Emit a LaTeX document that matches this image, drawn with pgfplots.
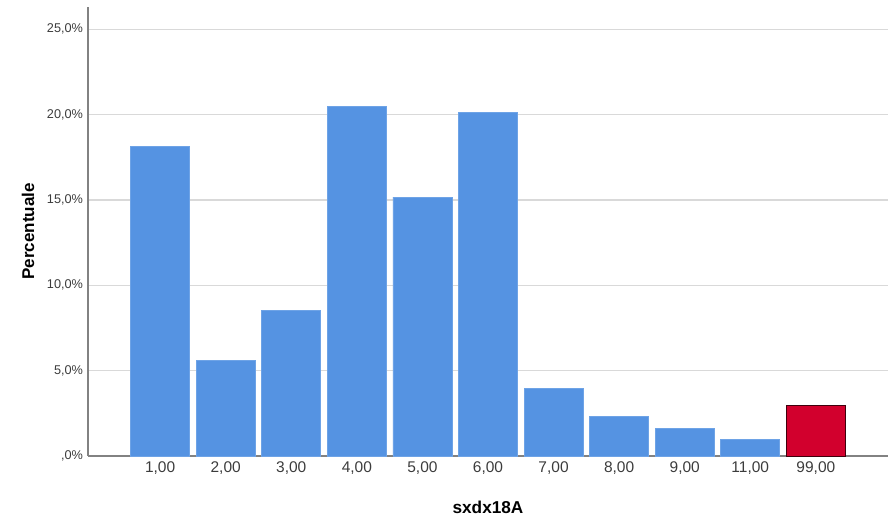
\documentclass[border=0pt]{standalone}
\usepackage{pgfplots}
\pgfplotsset{compat=1.18}
\usepackage{fontspec}
\setmainfont{Liberation Sans}
\definecolor{barblue}{RGB}{85,147,226}
\definecolor{barred}{RGB}{210,0,45}
\definecolor{axisgray}{RGB}{130,130,130}
\definecolor{gridgray}{RGB}{217,217,217}
\definecolor{ticktext}{RGB}{60,60,60}
\begin{document}
\begin{tikzpicture}
\useasboundingbox (-88pt,-62pt) rectangle (807pt,456pt);
\begin{axis}[
  scale only axis, width=800pt, height=449pt,
  xmin=-1.1, xmax=11.1, ymin=0, ymax=26.3,
  axis x line=bottom, axis y line=left,
  axis line style={-, draw=axisgray, line width=1.3pt},
  ytick={0,5,10,15,20,25},
  yticklabels={{,0\%},{5,0\%},{10,0\%},{15,0\%},{20,0\%},{25,0\%}},
  xtick={0,1,2,3,4,5,6,7,8,9,10},
  xticklabels={{1,00},{2,00},{3,00},{4,00},{5,00},{6,00},{7,00},{8,00},{9,00},{11,00},{99,00}},
  ymajorgrids, grid style={draw=gridgray, line width=1.3pt},
  major tick length=0pt,
  yticklabel style={font=\fontsize{12.7}{14}\selectfont, text=ticktext, xshift=-1.5pt},
  xticklabel style={font=\fontsize{15.5}{18}\selectfont, text=ticktext, yshift=-2pt},
  xlabel={sxdx18A}, ylabel={Percentuale},
  xlabel style={font=\fontsize{17.2}{20}\selectfont\bfseries, at={(axis description cs:0.5,-0.1136)}, anchor=center},
  ylabel style={font=\fontsize{17}{20}\selectfont\bfseries, at={(axis description cs:-0.075,0.5)}, anchor=center},
  ybar, bar width=59pt, bar shift=0pt,
  clip=false,
]
\addplot[ybar, bar shift=0pt, fill=barblue, draw=barblue!85!white, line width=0.6pt]
  coordinates {(0,18.15) (1,5.62) (2,8.55) (3,20.49) (4,15.16) (5,20.14) (6,3.94) (7,2.30) (8,1.62) (9,0.98)};
\addplot[ybar, bar shift=0pt, fill=barred, draw=black!70!barred, line width=0.8pt]
  coordinates {(10,2.99)};
\end{axis}
\end{tikzpicture}
\end{document}
